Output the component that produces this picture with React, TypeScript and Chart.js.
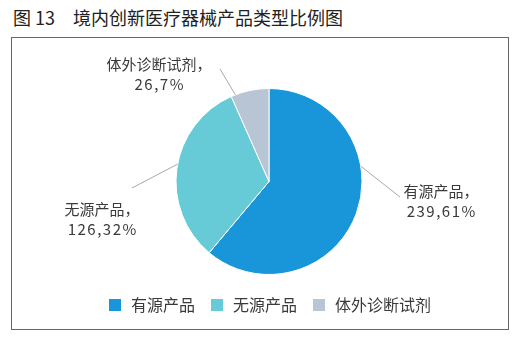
import React, { useEffect, useRef } from "react";
import { Chart, registerables } from "chart.js";

Chart.register(...registerables);

const TITLE = "图 13\u3000境内创新医疗器械产品类型比例图";
const categories = ["有源产品", "无源产品", "体外诊断试剂"];
const values = [239, 126, 26];
const percents = ["61%", "32%", "7%"];
const colors = ["#1896D9", "#66CBD6", "#B8C5D5"];

// leader-line layout per slice: start angle (deg from top, clockwise), line end offset and label offset (relative to pie centre)
const leaderAngles = [80.5, 280.8, 338.8];
const leaderEnds = [[131, 15.5], [-137, 6.5], [-49, -112.5]];
const labelOffsets = [[172, 9.5], [-167, 27.5], [-110, -117.5]];

const FONT = '"Noto Sans CJK SC", "Noto Sans", sans-serif';

const labelPlugin = {
  id: "leaderLabels",
  afterDatasetsDraw(chart: any) {
    const meta = chart.getDatasetMeta(0);
    const ctx = chart.ctx;
    ctx.save();
    meta.data.forEach((arc: any, i: number) => {
      const cx = arc.x;
      const cy = arc.y;
      const r = arc.outerRadius;
      const a = (leaderAngles[i] * Math.PI) / 180;
      const sx = cx + r * Math.sin(a);
      const sy = cy - r * Math.cos(a);
      const ex = cx + leaderEnds[i][0];
      const ey = cy + leaderEnds[i][1];
      ctx.strokeStyle = "#A8A8A8";
      ctx.lineWidth = 1;
      ctx.beginPath();
      ctx.moveTo(sx, sy);
      ctx.lineTo(ex, ey);
      ctx.stroke();
      ctx.fillStyle = "#3A3A3A";
      ctx.font = "15px " + FONT;
      ctx.textAlign = "center";
      ctx.textBaseline = "middle";
      const lx = cx + labelOffsets[i][0];
      const ly = cy + labelOffsets[i][1];
      (ctx as any).letterSpacing = "0px";
      ctx.fillText(categories[i] + "，", lx, ly);
      (ctx as any).letterSpacing = "1.5px";
      ctx.fillText(values[i] + "," + percents[i], lx + 0.75, ly + 20);
      (ctx as any).letterSpacing = "0px";
    });
    ctx.restore();
  },
};

export default function App() {
  const ref = useRef<HTMLCanvasElement | null>(null);
  useEffect(() => {
    if (!ref.current) return;
    const baseGen = (Chart as any).overrides.pie.plugins.legend.labels.generateLabels;
    const chart = new Chart(ref.current, {
      type: "pie",
      data: {
        labels: categories,
        datasets: [
          {
            data: values,
            backgroundColor: colors,
            borderColor: "#ffffff",
            borderWidth: 1,
            radius: 93,
          },
        ],
      },
      options: {
        responsive: false,
        maintainAspectRatio: false,
        animation: false,
        layout: { padding: { left: 18, right: 0, top: 42, bottom: 6 } },
        plugins: {
          tooltip: { enabled: false },
          title: { display: false },
          legend: {
            position: "bottom",
            labels: {
              usePointStyle: true,
              pointStyle: "rect",
              boxWidth: 16,
              boxHeight: 12,
              padding: 14,
              color: "#3A3A3A",
              font: { size: 16, family: FONT },
              generateLabels: (c: any) =>
                baseGen(c).map((it: any) => ({ ...it, lineWidth: 0, pointStyle: "rect" })),
            },
          },
        },
      },
      plugins: [labelPlugin],
    } as any);
    return () => chart.destroy();
  }, []);

  return (
    <div
      style={{
        position: "fixed",
        left: 0,
        top: 0,
        width: 519,
        height: 352,
        background: "#ffffff",
        fontFamily: FONT,
      }}
    >
      <div
        style={{
          position: "absolute",
          left: 13,
          top: 5,
          fontSize: 18,
          lineHeight: "24px",
          color: "#222222",
          whiteSpace: "pre",
        }}
      >
        {TITLE}
      </div>
      <div
        style={{
          position: "absolute",
          left: 11,
          top: 37,
          width: 498,
          height: 293,
          border: "1px solid #666666",
          boxSizing: "border-box",
        }}
      />
      <canvas
        ref={ref}
        width={496}
        height={291}
        style={{ position: "absolute", left: 12, top: 38, width: 496, height: 291 }}
      />
    </div>
  );
}
